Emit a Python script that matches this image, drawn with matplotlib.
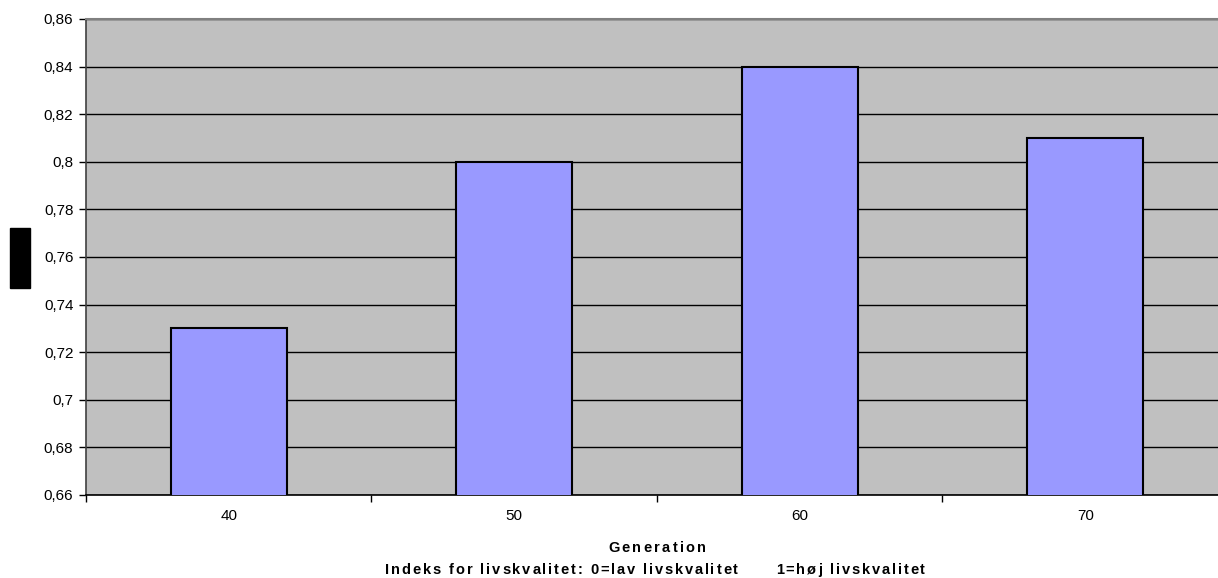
import matplotlib
matplotlib.use("Agg")
import matplotlib.pyplot as plt
from matplotlib.ticker import FuncFormatter, MultipleLocator, FixedLocator
from matplotlib.patches import Rectangle
from matplotlib.font_manager import FontProperties

plt.rcParams["font.family"] = ["Liberation Sans", "DejaVu Sans"]

# data
generations = ["40", "50", "60", "70"]
index_values = [0.73, 0.80, 0.84, 0.81]
x_label = "Generation"
note = "Indeks for livskvalitet: 0=lav livskvalitet      1=høj livskvalitet"

W, H = 1218, 578
fig = plt.figure(figsize=(W / 100, H / 100), dpi=100)
# the plot area runs a little past the right edge of the picture
ax = fig.add_axes([86 / W, 1 - 495 / H, (1228 - 86) / W, (495 - 19) / H])
ax.set_facecolor("#C0C0C0")

pos = list(range(len(generations)))
ax.bar(pos, index_values, width=0.406, color="#9999FF", edgecolor="black",
       linewidth=1.5, zorder=3)

ax.set_xlim(-0.5, len(generations) - 0.5)
ax.set_ylim(0.66, 0.86)
ax.yaxis.set_major_locator(MultipleLocator(0.02))
ax.yaxis.set_major_formatter(FuncFormatter(lambda v, p: f"{round(v, 2):g}".replace(".", ",")))
ax.grid(axis="y", color="black", linewidth=1, zorder=1)

# tick marks on category boundaries, labels in the middle
ax.set_xticks(pos)
ax.set_xticklabels(generations)
ax.tick_params(axis="x", which="major", length=0, pad=10, labelsize=11)
ax.xaxis.set_minor_locator(FixedLocator([p - 0.5 for p in pos] + [pos[-1] + 0.5]))
ax.tick_params(axis="x", which="minor", length=5, width=1, direction="out")
ax.tick_params(axis="y", length=5, width=1, direction="out", labelsize=11, pad=4)

ax.spines["right"].set_visible(False)
ax.spines["top"].set_color("#808080")
ax.spines["top"].set_linewidth(1.5)
ax.spines["left"].set_color("#404040")
ax.spines["left"].set_linewidth(1.2)
ax.spines["bottom"].set_linewidth(1.2)


def spaced_text(s, xc, yc, width_px, size):
    """Texte centré, étiré à width_px en ajoutant de l'interlettrage."""
    prop = FontProperties(family=["Liberation Sans", "DejaVu Sans"], weight="bold", size=size)
    r = fig.canvas.get_renderer()
    widths = [r.get_text_width_height_descent(c, prop, ismath=False)[0] for c in s]
    track = (width_px - sum(widths)) / (len(s) - 1)
    x = xc - width_px / 2
    for c, w in zip(s, widths):
        fig.text(x / W, 1 - yc / H, c, ha="left", va="center", fontproperties=prop)
        x += w + track


spaced_text(x_label, 657, 548, 98, 10.5)
spaced_text(note, 655, 570, 540, 10.5)

# the y-axis title shows up only as a black block in the source
fig.patches.append(Rectangle((10 / W, 1 - 288 / H), 20 / W, 60 / H,
                             transform=fig.transFigure, color="black"))

fig.savefig("out.png", dpi=100)
